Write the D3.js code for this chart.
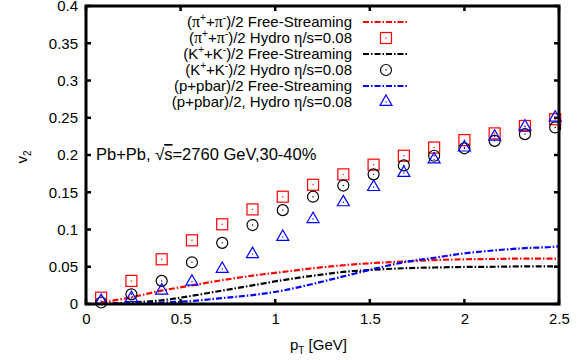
<!DOCTYPE html>
<html>
<head>
<meta charset="utf-8">
<script src="https://cdn.jsdelivr.net/npm/d3@7"></script>
<style>
  body { margin: 0; background: #fff; }
  svg { font-family: "Liberation Sans", Arial, sans-serif; }
  .gk { font-family: "Liberation Serif", "DejaVu Serif", serif; }
</style>
</head>
<body>
<svg width="584" height="360"></svg>
<script>
// pT grid of the hydro points (GeV)
const pT = [0.08, 0.24, 0.40, 0.56, 0.72, 0.88, 1.04, 1.20, 1.36, 1.52, 1.68, 1.84, 2.00, 2.16, 2.32, 2.48];
// free-streaming curves, same grid plus the edge
const fsPt = [0.08, 0.24, 0.40, 0.56, 0.72, 0.88, 1.04, 1.20, 1.36, 1.52, 1.68, 1.84, 2.00, 2.16, 2.32, 2.48, 2.50];

const piFS   = [0.002, 0.009, 0.018, 0.025, 0.032, 0.038, 0.043, 0.048, 0.052, 0.055, 0.057, 0.059, 0.060, 0.0605, 0.061, 0.061, 0.061];
const kFS    = [0.000, 0.002, 0.005, 0.011, 0.018, 0.025, 0.032, 0.038, 0.043, 0.046, 0.048, 0.049, 0.0497, 0.050, 0.0505, 0.0506, 0.0506];
const pFS    = [0.000, 0.001, 0.002, 0.004, 0.008, 0.012, 0.018, 0.027, 0.037, 0.047, 0.056, 0.062, 0.068, 0.072, 0.075, 0.077, 0.0775];

const piHydro = [0.0085, 0.031, 0.060, 0.0855, 0.107, 0.127, 0.144, 0.160, 0.174, 0.187, 0.199, 0.210, 0.220, 0.229, 0.239, 0.248];
const kHydro  = [0.002, 0.013, 0.031, 0.056, 0.082, 0.106, 0.126, 0.144, 0.159, 0.174, 0.186, 0.199, 0.209, 0.219, 0.228, 0.237];
const pHydro  = [0.004, 0.008, 0.018, 0.030, 0.047, 0.067, 0.090, 0.114, 0.1365, 0.157, 0.176, 0.194, 0.210, 0.2245, 0.238, 0.250];

const xTicks = [0, 0.5, 1, 1.5, 2, 2.5];
const yTicks = [0, 0.05, 0.1, 0.15, 0.2, 0.25, 0.3, 0.35, 0.4];

const svg = d3.select("svg");
const margin = { top: 6, right: 25, bottom: 56, left: 86 };
const W = 584, H = 360;

const x = d3.scaleLinear().domain([0, 2.5]).range([margin.left, W - margin.right]);
const y = d3.scaleLinear().domain([0, 0.4]).range([H - margin.bottom, margin.top]);

const fmt = d => d === 0 ? "0" : String(+d.toFixed(2));

// tick labels via axes, ticks drawn inward by hand
const xAxis = svg.append("g")
  .attr("transform", `translate(0,${y(0)})`)
  .call(d3.axisBottom(x).tickValues(xTicks).tickFormat(fmt).tickSize(0).tickPadding(9));
const yAxis = svg.append("g")
  .attr("transform", `translate(${x(0)},0)`)
  .call(d3.axisLeft(y).tickValues(yTicks).tickFormat(fmt).tickSize(0).tickPadding(8));
[xAxis, yAxis].forEach(g => {
  g.select(".domain").remove();
  g.selectAll("text").attr("font-size", 15).attr("font-family", "Liberation Sans, Arial, sans-serif").attr("fill", "#000");
});

const tk = svg.append("g").attr("stroke", "#000").attr("stroke-width", 2.5);
xTicks.forEach(t => {
  tk.append("line").attr("x1", x(t)).attr("x2", x(t)).attr("y1", y(0)).attr("y2", y(0) - 5);
  tk.append("line").attr("x1", x(t)).attr("x2", x(t)).attr("y1", y(0.4)).attr("y2", y(0.4) + 5);
});
yTicks.forEach(t => {
  tk.append("line").attr("x1", x(0)).attr("x2", x(0) + 5).attr("y1", y(t)).attr("y2", y(t));
  tk.append("line").attr("x1", x(2.5)).attr("x2", x(2.5) - 5).attr("y1", y(t)).attr("y2", y(t));
});

// free-streaming curves
const dash = "6,2,1.5,2";
const line = d3.line().x(d => x(d[0])).y(d => y(d[1])).curve(d3.curveMonotoneX);
const curves = [
  { vals: piFS, color: "#ff0000" },
  { vals: kFS, color: "#000000" },
  { vals: pFS, color: "#0000ff" }
];
curves.forEach(c => {
  svg.append("path")
    .datum(fsPt.map((p, i) => [p, c.vals[i]]))
    .attr("d", line)
    .attr("fill", "none")
    .attr("stroke", c.color)
    .attr("stroke-width", 2.2)
    .attr("stroke-dasharray", dash);
});

// markers
function marker(g, type, cx, cy, color) {
  if (type === "square") {
    g.append("rect").attr("x", cx - 5.5).attr("y", cy - 5.5).attr("width", 11).attr("height", 11)
      .attr("fill", "none").attr("stroke", color).attr("stroke-width", 1.2);
  } else if (type === "circle") {
    g.append("circle").attr("cx", cx).attr("cy", cy).attr("r", 5.5)
      .attr("fill", "none").attr("stroke", color).attr("stroke-width", 1.2);
  } else {
    const s = 12, h = s * Math.sqrt(3) / 2;
    g.append("path")
      .attr("d", `M${cx},${cy - h * 2 / 3}L${cx + s / 2},${cy + h / 3}L${cx - s / 2},${cy + h / 3}Z`)
      .attr("fill", "none").attr("stroke", color).attr("stroke-width", 1.2);
  }
  g.append("circle").attr("cx", cx).attr("cy", cy).attr("r", 0.7).attr("fill", color);
}
const hydro = [
  { vals: piHydro, type: "square", color: "#ff0000" },
  { vals: kHydro, type: "circle", color: "#000000" },
  { vals: pHydro, type: "triangle", color: "#0000ff" }
];
hydro.forEach(s => {
  const g = svg.append("g");
  pT.forEach((p, i) => marker(g, s.type, x(p), y(s.vals[i]), s.color));
});

// legend
const legendRows = [
  { lbl: ["(", ["π", "gk"], ["+", "sup"], ["+", "base"], ["π", "gk"], ["-", "sup"], [")/2 Free-Streaming", "base"]], kind: "line", color: "#ff0000" },
  { lbl: ["(", ["π", "gk"], ["+", "sup"], ["+", "base"], ["π", "gk"], ["-", "sup"], [")/2 Hydro ", "base"], ["η", "gk"], "/s=0.08"], kind: "square", color: "#ff0000" },
  { lbl: ["(K", ["+", "sup"], ["+K", "base"], ["-", "sup"], [")/2 Free-Streaming", "base"]], kind: "line", color: "#000000" },
  { lbl: ["(K", ["+", "sup"], ["+K", "base"], ["-", "sup"], [")/2 Hydro ", "base"], ["η", "gk"], "/s=0.08"], kind: "circle", color: "#000000" },
  { lbl: ["(p+pbar)/2 Free-Streaming"], kind: "line", color: "#0000ff" },
  { lbl: ["(p+pbar)/2, Hydro ", ["η", "gk"], "/s=0.08"], kind: "triangle", color: "#0000ff" }
];
const legend = svg.append("g");
legendRows.forEach((r, i) => {
  const yy = 22 + i * 16;
  const t = legend.append("text").attr("x", 352).attr("y", yy + 5)
    .attr("text-anchor", "end").attr("font-size", 15);
  r.lbl.forEach(part => {
    if (typeof part === "string") { t.append("tspan").text(part); return; }
    const ts = t.append("tspan").text(part[0]);
    if (part[1] === "gk") ts.attr("class", "gk").attr("font-size", 16);
    if (part[1] === "sup") ts.attr("font-size", 10).attr("dy", -6);
    if (part[1] === "base") ts.attr("dy", 6);
  });
  if (r.kind === "line") {
    legend.append("line").attr("x1", 363).attr("x2", 407).attr("y1", yy).attr("y2", yy)
      .attr("stroke", r.color).attr("stroke-width", 2).attr("stroke-dasharray", dash);
  } else {
    marker(legend, r.kind, 386, yy, r.color);
  }
});

// annotation
const ann = svg.append("text").attr("x", 96).attr("y", 160).attr("font-size", 16.5);
ann.append("tspan").text("Pb+Pb, √");
ann.append("tspan").text("s").style("text-decoration", "overline");
ann.append("tspan").text("=2760 GeV,30-40%");

// axis titles
const xl = svg.append("text").attr("x", 290).attr("y", 350).attr("font-size", 15);
xl.append("tspan").text("p");
xl.append("tspan").text("T").attr("font-size", 10).attr("dy", 4);
xl.append("tspan").text(" [GeV]").attr("dy", -4);

const yl = svg.append("text").attr("transform", "translate(27,157) rotate(-90)")
  .attr("text-anchor", "middle").attr("font-size", 15);
yl.append("tspan").text("v");
yl.append("tspan").text("2").attr("font-size", 10).attr("dy", 4);

// frame
svg.append("rect")
  .attr("x", x(0)).attr("y", y(0.4))
  .attr("width", x(2.5) - x(0)).attr("height", y(0) - y(0.4))
  .attr("fill", "none").attr("stroke", "#000").attr("stroke-width", 3);
</script>
</body>
</html>
